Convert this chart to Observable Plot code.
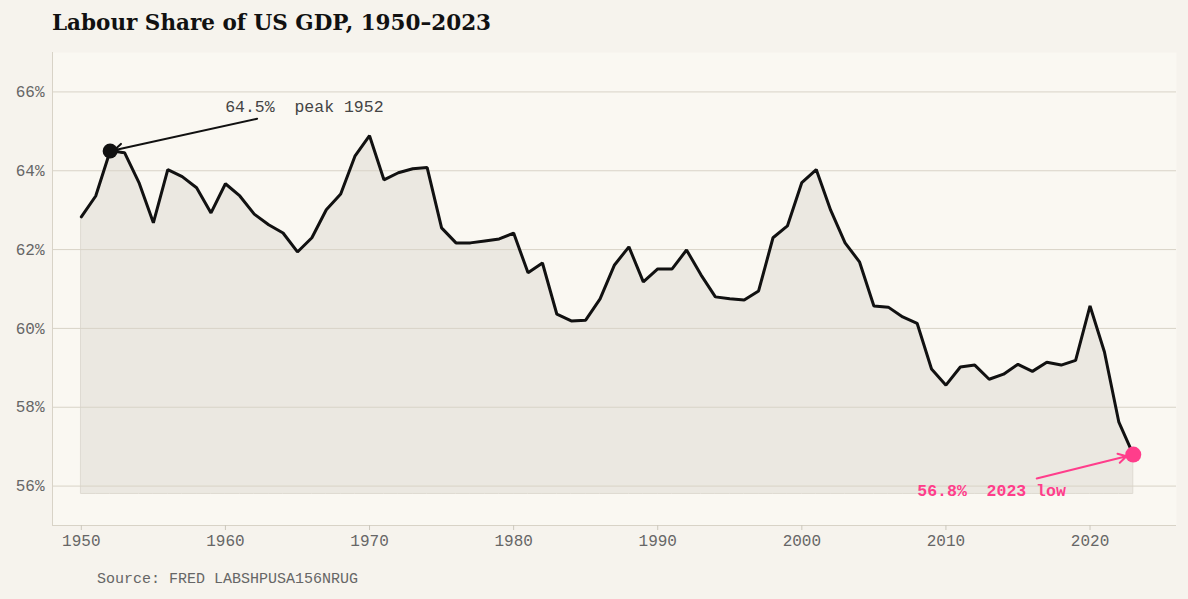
<!DOCTYPE html>
<html>
<head>
<meta charset="utf-8">
<script src="https://cdn.jsdelivr.net/npm/d3@7"></script>
<script src="https://cdn.jsdelivr.net/npm/@observablehq/plot@0.6"></script>
<style>
  html, body { margin: 0; padding: 0; background: #f6f3ed; }
  #title { height: 44px; line-height: 46px; padding-left: 52px; font-family: "DejaVu Serif", serif; font-weight: bold; font-size: 21.5px; color: #111; }
  #caption { margin-top: 16px; padding-left: 97px; line-height: 18px; font-family: "Liberation Mono", monospace; font-size: 15px; color: #666; }
  svg { display: block; }
</style>
</head>
<body>
<div id="title">Labour Share of US GDP, 1950–2023</div>
<div id="chart"></div>
<div id="caption">Source: FRED LABSHPUSA156NRUG</div>
<script>
const years = d3.range(1950, 2024);
const share = [
  62.83, 63.36, 64.50, 64.46, 63.70, 62.68, 64.03, 63.85, 63.57, 62.93,
  63.67, 63.36, 62.90, 62.63, 62.42, 61.94, 62.30, 63.01, 63.41, 64.38,
  64.89, 63.77, 63.95, 64.05, 64.08, 62.55, 62.17, 62.17, 62.22, 62.27,
  62.42, 61.41, 61.66, 60.36, 60.19, 60.21, 60.75, 61.61, 62.07, 61.18,
  61.51, 61.51, 61.99, 61.36, 60.80, 60.75, 60.72, 60.95, 62.30, 62.60,
  63.70, 64.03, 63.00, 62.17, 61.69, 60.57, 60.54, 60.29, 60.13, 58.97,
  58.56, 59.02, 59.07, 58.71, 58.84, 59.09, 58.91, 59.14, 59.07, 59.19,
  60.57, 59.40, 57.62, 56.80
];
const xDomain = [1948, 2026];
const yDomain = [55, 67];
const xTicks = [1950, 1960, 1970, 1980, 1990, 2000, 2010, 2020];
const yTicks = [56, 58, 60, 62, 64, 66];
const peakYear = 1952;
const lowYear = 2023;
const peakLabel = "64.5%  peak 1952";
const lowLabel = "56.8%  2023 low";

const data = years.map((y, i) => ({year: y, value: share[i]}));
const base = d3.min(share) - 1;
const peak = data.find(d => d.year === peakYear);
const low = data.find(d => d.year === lowYear);

const mono = "Liberation Mono, monospace";
const pink = "#ff3d8b";

const chart = Plot.plot({
  width: 1188,
  height: 511,
  marginTop: 8,
  marginLeft: 52,
  marginRight: 12,
  marginBottom: 30,
  style: {background: "transparent", fontFamily: mono, fontSize: "16px", color: "#666"},
  x: {domain: xDomain, ticks: xTicks, tickFormat: d => String(d), label: null},
  y: {domain: yDomain, ticks: yTicks, tickFormat: d => `${d}%`, label: null},
  marks: [
    Plot.frame({fill: "#faf8f2", stroke: null}),
    Plot.areaY(data, {x: "year", y1: base, y2: "value", fill: "#ebe8e1", fillOpacity: 1, stroke: "#dedad2", strokeWidth: 1}),
    Plot.gridY(yTicks, {stroke: "#d8d3c7", strokeOpacity: 1, strokeWidth: 1}),
    Plot.ruleX([xDomain[0]], {stroke: "#d8d3c7"}),
    Plot.ruleY([yDomain[0]], {stroke: "#d8d3c7"}),
    Plot.axisX({ticks: xTicks, tickFormat: d => String(d), tickSize: 5, tickPadding: 4, stroke: "#ccc8bd", fill: "#666", fontSize: 16, label: null}),
    Plot.axisY({ticks: yTicks, tickFormat: d => `${d}%`, tickSize: 0, tickPadding: 8, fill: "#666", fontSize: 16, label: null}),
    Plot.line(data, {x: "year", y: "value", stroke: "#111", strokeWidth: 3, strokeLinejoin: "miter"}),
    Plot.arrow([peak], {x1: d => d.year + 10.2, y1: d => d.value + 0.82, x2: "year", y2: "value", stroke: "#111", strokeWidth: 2, headLength: 7, insetEnd: 4}),
    Plot.dot([peak], {x: "year", y: "value", r: 7.5, fill: "#111"}),
    Plot.text([peak], {x: "year", y: "value", text: () => peakLabel, dx: 115, dy: -44, textAnchor: "start", fill: "#444", fontSize: 16.5, fontFamily: mono}),
    Plot.arrow([low], {x1: d => d.year - 6.7, y1: d => d.value - 0.61, x2: "year", y2: "value", stroke: pink, strokeWidth: 2, headLength: 7, insetEnd: 7}),
    Plot.dot([low], {x: "year", y: "value", r: 8, fill: pink}),
    Plot.text([low], {x: "year", y: "value", text: () => lowLabel, dx: -216, dy: 36, textAnchor: "start", fill: pink, fontSize: 16.5, fontWeight: "bold", fontFamily: mono})
  ]
});
document.getElementById("chart").appendChild(chart);
</script>
</body>
</html>
